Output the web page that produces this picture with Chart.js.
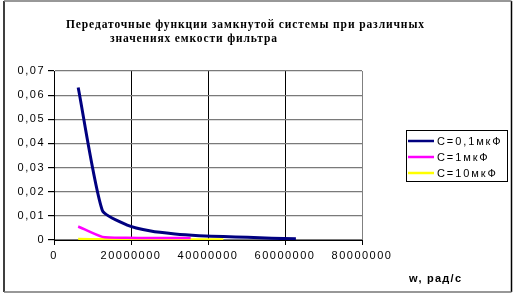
<!DOCTYPE html>
<html>
<head>
<meta charset="utf-8">
<script src="https://cdn.jsdelivr.net/npm/chart.js@4"></script>
<style>
  html, body { margin: 0; padding: 0; background: #fff; }
  #chart { display: block; }
</style>
</head>
<body>
<canvas id="chart" width="519" height="295"></canvas>
<script>
// --- Data ---
const titleLines = ['Передаточные функции замкнутой системы при различных', 'значениях емкости фильтра'];
const xAxisTitle = 'w, рад/с';
const seriesNames = ['С=0,1мкФ', 'С=1мкФ', 'С=10мкФ'];

const omegaC01 = [6283185, 12566371, 18849556, 25132741, 31415927, 37699112, 43982297, 50265482, 56548668, 62831853];
const valuesC01 = [0.0632, 0.0122, 0.0063, 0.0037, 0.0025, 0.0018, 0.0014, 0.0011, 0.0007, 0.0005];

const omegaC1 = [6283185, 12566371, 18849556, 25132741, 31415927, 35500000];
const valuesC1 = [0.0056, 0.0013, 0.0009, 0.0008, 0.0008, 0.0008];

const omegaC10 = [6283185, 12566371, 18849556, 25132741, 31415927, 37699112, 43982297];
const valuesC10 = [0.0004, 0.0003, 0.0003, 0.0002, 0.0002, 0.0002, 0.0002];

const xTicks = [0, 20000000, 40000000, 60000000, 80000000];
const yTicks = [0, 0.01, 0.02, 0.03, 0.04, 0.05, 0.06, 0.07];

const toPoints = (xs, ys) => xs.map((x, i) => ({ x: x, y: ys[i] }));

// draw text stretched to a given width (the original uses wide letter spacing)
function fitText(ctx, text, x, y, width) {
    ctx.letterSpacing = '0px';
    const w = ctx.measureText(text).width;
    const gap = Math.max(0, (width - w) / Math.max(1, text.length - 1));
    ctx.letterSpacing = gap + 'px';
    ctx.fillText(text, x, y);
}

const framePlugin = {
    id: 'frame',
    beforeDraw(chart) {
        const ctx = chart.ctx;
        ctx.save();
        ctx.fillStyle = '#fff';
        ctx.fillRect(0, 0, chart.width, chart.height);
        ctx.restore();
        // wide letter spacing for tick labels
        ctx.letterSpacing = '1.5px';
    },
    afterDraw(chart) {
        const ctx = chart.ctx;
        ctx.save();
        ctx.letterSpacing = '0px';
        // outer border
        ctx.lineWidth = 1.5;
        ctx.strokeStyle = '#000';
        ctx.beginPath();
        ctx.moveTo(4, 1); ctx.lineTo(4, 292);
        ctx.moveTo(511.5, 1); ctx.lineTo(511.5, 292);
        ctx.stroke();
        ctx.strokeStyle = '#777';
        ctx.beginPath();
        ctx.moveTo(4, 1); ctx.lineTo(511.5, 1);
        ctx.moveTo(4, 292); ctx.lineTo(511.5, 292);
        ctx.stroke();

        // title
        ctx.fillStyle = '#000';
        ctx.textBaseline = 'alphabetic';
        ctx.textAlign = 'left';
        ctx.font = 'bold 11.5px "Liberation Serif", serif';
        fitText(ctx, titleLines[0], 66, 28, 358);
        fitText(ctx, titleLines[1], 110, 42, 167);

        // axis title
        ctx.font = 'bold 11px "Liberation Sans", Arial, sans-serif';
        fitText(ctx, xAxisTitle, 409, 282, 52);

        // legend
        ctx.lineWidth = 1;
        ctx.strokeStyle = '#000';
        ctx.strokeRect(406.5, 130.5, 101, 51);
        ctx.font = '11px "Liberation Sans", Arial, sans-serif';
        ctx.textBaseline = 'middle';
        chart.data.datasets.forEach((ds, i) => {
            const y = 141 + i * 16;
            ctx.strokeStyle = ds.borderColor;
            ctx.lineWidth = 2.5;
            ctx.beginPath();
            ctx.moveTo(408, y);
            ctx.lineTo(434, y);
            ctx.stroke();
            ctx.letterSpacing = '1.9px';
            ctx.fillStyle = '#000';
            ctx.fillText(ds.label, 437, y + 0.5);
        });
        ctx.restore();
    }
};

new Chart(document.getElementById('chart'), {
    type: 'scatter',
    data: {
        datasets: [
            { label: seriesNames[0], data: toPoints(omegaC01, valuesC01), borderColor: '#000080', borderWidth: 3 },
            { label: seriesNames[1], data: toPoints(omegaC1, valuesC1), borderColor: '#FF00FF', borderWidth: 2.5 },
            { label: seriesNames[2], data: toPoints(omegaC10, valuesC10), borderColor: '#FFFF00', borderWidth: 2.5 }
        ].map(ds => Object.assign(ds, { showLine: true, pointRadius: 0, tension: 0.2, fill: false }))
    },
    options: {
        responsive: false,
        animation: false,
        layout: { padding: { left: 0, top: 71, right: 157, bottom: 0 } },
        plugins: {
            legend: { display: false },
            title: { display: false },
            tooltip: { enabled: false }
        },
        scales: {
            x: {
                type: 'linear',
                min: xTicks[0],
                max: xTicks[xTicks.length - 1],
                afterBuildTicks: scale => { scale.ticks = xTicks.map(v => ({ value: v })); },
                afterFit: scale => { scale.height = 55; },
                ticks: {
                    callback: v => String(v),
                    font: { family: '"Liberation Sans", Arial, sans-serif', size: 11 },
                    color: '#000',
                    maxRotation: 0,
                    padding: 4
                },
                grid: {
                    color: ctx => ctx.tick && ctx.tick.value === 80000000 ? '#808080' : '#000',
                    tickColor: '#000',
                    tickLength: 5,
                    lineWidth: 1
                },
                border: { color: '#000', width: 1 }
            },
            y: {
                min: yTicks[0],
                max: yTicks[yTicks.length - 1],
                afterBuildTicks: scale => { scale.ticks = yTicks.map(v => ({ value: v })); },
                afterFit: scale => { scale.width = 54; },
                ticks: {
                    callback: v => v === 0 ? '0' : v.toFixed(2).replace('.', ','),
                    font: { family: '"Liberation Sans", Arial, sans-serif', size: 11 },
                    color: '#000',
                    padding: 3
                },
                grid: {
                    color: '#7a7a7a',
                    tickColor: '#000',
                    tickLength: 6,
                    lineWidth: 1.2
                },
                border: { color: '#000', width: 1 }
            }
        }
    },
    plugins: [framePlugin]
});
</script>
</body>
</html>
